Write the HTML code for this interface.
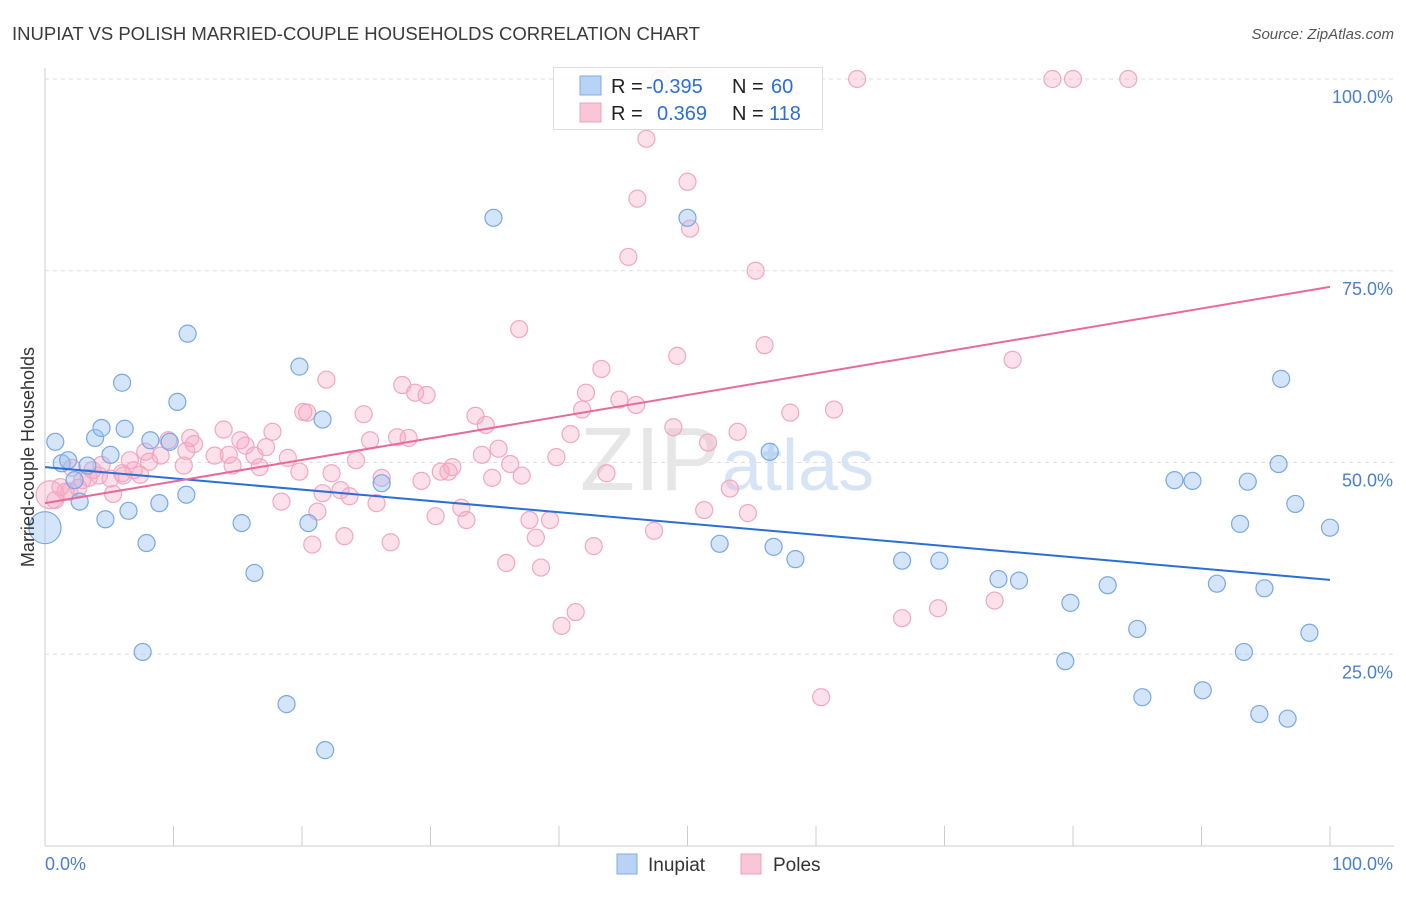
<!DOCTYPE html>
<html><head><meta charset="utf-8"><style>
body{margin:0;background:#fff;font-family:"Liberation Sans",sans-serif}
svg text{font-family:"Liberation Sans",sans-serif}
</style></head><body>
<svg id="c" width="1406" height="892" viewBox="0 0 1406 892">
<text x="12" y="40" font-size="18" fill="#3a3a3a" textLength="688" lengthAdjust="spacingAndGlyphs">INUPIAT VS POLISH MARRIED-COUPLE HOUSEHOLDS CORRELATION CHART</text>
<text x="1394" y="39" font-size="15" fill="#555" font-style="italic" text-anchor="end">Source: ZipAtlas.com</text>
<g id="grid"></g>
<text x="720" y="490" font-size="90" font-family="Liberation Serif" fill="#e6e6e6" text-anchor="end">ZIP</text>
<text x="722" y="490" font-size="72" fill="#d6e4f5">atlas</text>
<g id="pts"></g>
<g id="lines"></g>
<text transform="translate(34,457) rotate(-90)" font-size="18" fill="#333" text-anchor="middle">Married-couple Households</text>
<g>
<rect x="553.5" y="67.5" width="269" height="62" fill="#fff" fill-opacity="0.85" stroke="#ddd"/>
<rect x="580" y="76" width="21" height="19" fill="#b8d3f5" stroke="#7eaee8"/>
<rect x="580" y="103" width="21" height="19" fill="#f9c6d6" stroke="#f0a0be"/>
<text x="611" y="93" font-size="20" fill="#222">R = <tspan fill="#2a6fd6" x="646">-0.395</tspan><tspan x="732">N = </tspan><tspan fill="#2a6fd6" x="771">60</tspan></text>
<text x="611" y="120" font-size="20" fill="#222">R = <tspan fill="#2a6fd6" x="657">0.369</tspan><tspan x="732">N = </tspan><tspan fill="#2a6fd6" x="769">118</tspan></text>
</g>
<g>
<rect x="617" y="854" width="20" height="20" fill="#b8d3f5" stroke="#7eaee8"/>
<text x="648" y="871" font-size="19" fill="#333">Inupiat</text>
<rect x="741" y="854" width="20" height="20" fill="#f9c6d6" stroke="#f0a0be"/>
<text x="773" y="871" font-size="19" fill="#333">Poles</text>
</g>
</svg>
<script>
const yTicks=[25,50,75,100];
const yTickLabels=["25.0%","50.0%","75.0%","100.0%"];
const xTicks=[0,10,20,30,40,50,60,70,80,90,100];
const blueX=[0.8,1.3,1.8,2.3,2.7,3.3,3.9,4.4,4.7,5.1,6.0,6.2,6.5,7.6,7.9,8.2,8.9,9.7,10.3,11.0,11.1,15.3,16.3,18.8,19.8,20.5,21.6,21.8,26.2,34.9,50.0,52.5,56.4,56.7,58.4,66.7,69.6,74.2,75.8,79.4,79.8,82.7,85.0,85.4,87.9,89.3,90.1,91.2,93.0,93.3,93.6,94.5,94.9,96.0,96.2,96.7,97.3,98.4,100,0];
const blueY=[52.7,49.9,50.3,47.7,44.9,49.6,53.2,54.5,42.6,51.0,60.4,54.4,43.7,25.3,39.5,52.9,44.7,52.7,57.9,45.8,66.8,42.1,35.6,18.5,62.5,42.1,55.6,12.5,47.3,81.9,81.9,39.4,51.4,39.0,37.4,37.2,37.2,34.8,34.6,24.1,31.7,34.0,28.3,19.4,47.7,47.6,20.3,34.2,42.0,25.3,47.5,17.2,33.6,49.8,60.9,16.6,44.6,27.8,41.5,41.5];
const pinkX=[47.9,63.2,78.4,80.0,84.3,46.8,50.0,46.1,50.2,45.4,55.3,36.9,56.0,49.2,75.3,43.3,21.9,27.8,28.8,29.7,42.1,44.7,46.0,20.1,20.4,24.8,33.5,41.8,58.0,61.4,34.3,48.9,40.9,53.9,13.9,17.7,27.4,28.3,25.3,11.3,9.6,11.6,15.2,15.6,17.2,51.6,35.3,34.0,39.8,7.8,9.0,11.0,13.2,14.3,16.3,18.9,24.2,6.6,8.1,10.8,14.6,16.7,6.9,4.4,6.0,7.4,2.1,3.7,3.4,4.2,2.9,5.1,6.1,19.8,22.3,31.4,31.7,36.2,26.2,29.3,30.8,34.8,37.1,43.7,53.3,5.3,1.9,2.6,1.2,0.8,1.6,0.4,21.6,23.0,23.7,25.8,18.4,32.4,51.3,54.7,21.2,30.4,32.8,37.7,39.3,47.4,23.3,20.8,26.9,38.2,42.7,35.9,38.6,41.3,40.2,66.7,69.5,73.9,60.4];
const pinkY=[100,100,100,100,100,92.2,86.6,84.4,80.5,76.8,75.0,67.4,65.3,63.9,63.4,62.2,60.8,60.1,59.1,58.8,59.1,58.2,57.5,56.6,56.5,56.3,56.1,56.9,56.5,56.9,54.9,54.6,53.7,54.0,54.3,54.0,53.3,53.2,52.9,53.2,52.9,52.4,52.9,52.2,52.0,52.6,51.8,51.0,50.7,51.4,50.9,51.5,50.9,51.0,50.9,50.6,50.3,50.3,50.1,49.6,49.6,49.4,49.0,49.7,48.6,48.4,49.3,49.0,48.0,48.3,47.7,47.9,48.3,48.8,48.6,48.8,49.4,49.8,48.0,47.6,48.8,48.0,48.3,48.6,46.6,45.9,46.2,46.7,46.8,45.1,46.2,45.8,46.0,46.4,45.6,44.7,44.9,44.1,43.8,43.4,43.6,43.0,42.5,42.5,42.5,41.1,40.4,39.3,39.6,40.2,39.1,36.9,36.3,30.5,28.7,29.7,31.0,32.0,19.4];
const blueTrend=[49.4,34.7];
const pinkTrend=[44.7,72.9];
const X0=45,X1=1330,Y0=846,Y100=79;
const sx=v=>X0+(X1-X0)*v/100, sy=v=>Y0-(Y0-Y100)*v/100;
const NS='http://www.w3.org/2000/svg';
function mk(t,a,p){const e=document.createElementNS(NS,t);for(const k in a)e.setAttribute(k,a[k]);p.appendChild(e);return e;}
const g=document.getElementById('grid');
let ax=mk('line',{x1:45,y1:68,x2:45,y2:846,stroke:'#ccc'},g);


let bx=mk('line',{x1:45,y1:846,x2:1394,y2:846,stroke:'#ccc'},g);


yTicks.forEach((v,i)=>{
 const l=mk('line',{x1:45,x2:1394,y1:sy(v),y2:sy(v),stroke:'#ddd','stroke-dasharray':'4,4'},g);
 
 
 const t=mk('text',{x:1393,y:sy(v)+24,'font-size':18,fill:'#4a7fd0','text-anchor':'end'},g);
 t.textContent=yTickLabels[i];
 
 
});
xTicks.forEach(v=>{
 const l=mk('line',{x1:sx(v),x2:sx(v),y1:826,y2:846,stroke:'#ccc'},g);
 
 
});
let t0=mk('text',{x:45,y:870,'font-size':18,fill:'#4a7fd0'},g);t0.textContent='0.0%';


let t1=mk('text',{x:1393,y:870,'font-size':18,fill:'#4a7fd0','text-anchor':'end'},g);t1.textContent='100.0%';


const P=document.getElementById('pts');
pinkX.forEach((x,i)=>{
 const c=mk('circle',{cx:sx(x),cy:sy(pinkY[i]),r:(x<0.5?14:8.5),fill:'rgba(246,170,196,0.35)',stroke:'#f2a6c2','stroke-width':1.2},P);
 
 
});
blueX.forEach((x,i)=>{
 const c=mk('circle',{cx:sx(x),cy:sy(blueY[i]),r:(i===blueX.length-1?16:8.5),fill:'rgba(150,190,240,0.4)',stroke:'#78a8e6','stroke-width':1.2},P);
 
 
});
const L=document.getElementById('lines');
let bl=mk('line',{x1:sx(0),y1:sy(blueTrend[0]),x2:sx(100),y2:sy(blueTrend[1]),stroke:'#2a6fd6','stroke-width':2},L);


let pl=mk('line',{x1:sx(0),y1:sy(pinkTrend[0]),x2:sx(100),y2:sy(pinkTrend[1]),stroke:'#e8699a','stroke-width':2},L);


</script>
</body></html>
